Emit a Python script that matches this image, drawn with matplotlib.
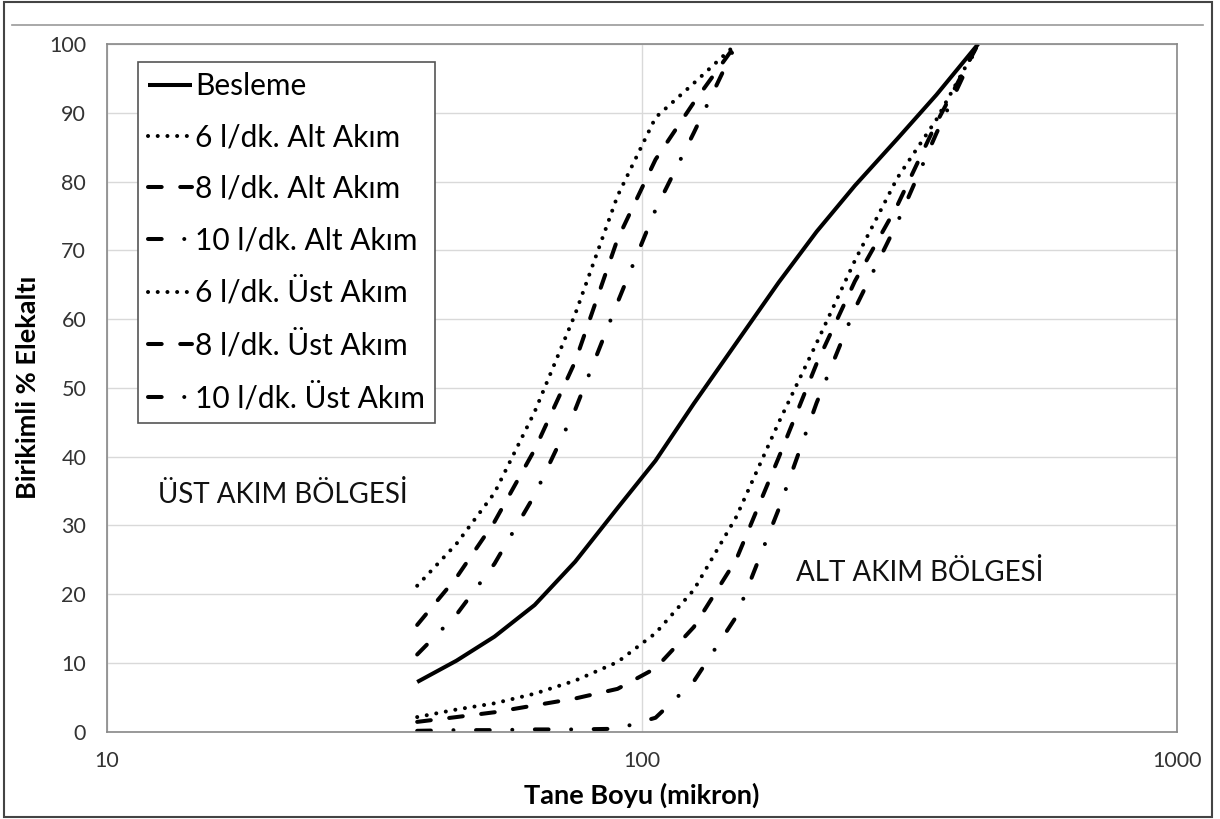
import matplotlib
matplotlib.use('Agg')
import matplotlib.pyplot as plt
from matplotlib.lines import Line2D
from matplotlib.patches import Rectangle
from matplotlib.ticker import FixedLocator, FixedFormatter, NullLocator

plt.rcParams['font.family'] = ['Lato', 'DejaVu Sans']

# sieve sizes (micron)
sizes = [38, 45, 53, 63, 75, 90, 106, 125, 150, 180, 212, 250, 300, 355, 425]

besleme = [7.2, 10.3, 13.8, 18.4, 24.7, 32.5, 39.4, 47.7, 56.5, 65.3, 72.7, 79.4, 86.2, 92.6, 100]

alt6 = [2.1, 3.2, 4.1, 5.5, 7.4, 10.1, 14.3, 20.6, 31.2, 44.9, 56.5, 68.5, 80.5, 89.0, 100]
alt8 = [1.4, 2.1, 2.8, 3.8, 4.8, 6.2, 9.2, 15.2, 25.0, 39.8, 53.5, 65.5, 76.5, 88.5, 100]
alt10 = [0.1, 0.2, 0.2, 0.3, 0.3, 0.4, 2.0, 7.3, 16.7, 32.3, 47.8, 61.5, 74.0, 87.0, 100]

# overflow curves only go up to 150 micron
ust_sizes = sizes[:9]
ust6 = [21.2, 27.3, 34.7, 46.5, 60.7, 77.9, 89.3, 94.3, 100]
ust8 = [15.5, 22.4, 30.5, 41.0, 53.8, 71.6, 83.2, 91.5, 100]
ust10 = [11.2, 17.0, 24.4, 34.4, 46.8, 62.4, 75.9, 87.1, 100]

labels = ['Besleme', '6 l/dk. Alt Akım', '8 l/dk. Alt Akım', '10 l/dk. Alt Akım',
          '6 l/dk. Üst Akım', '8 l/dk. Üst Akım', '10 l/dk. Üst Akım']

x_ticks = [10, 100, 1000]
y_ticks = list(range(0, 101, 10))

dotted = (0, (0.01, 2.4))
dashed = (0, (3.4, 4.6))
dashdot = (0, (3.4, 5.6, 0.01, 5.6))
LW = 2.9

W, H = 1220, 819
fig = plt.figure(figsize=(W / 100, H / 100), dpi=100)
ax = fig.add_axes([107 / W, 1 - 731.5 / H, (1177 - 107) / W, (731.5 - 44) / H])

kw = dict(color='black', lw=LW, dash_capstyle='round', solid_capstyle='butt')
ax.plot(sizes, besleme, ls='-', label=labels[0], **kw)
ax.plot(sizes, alt6, ls=dotted, label=labels[1], **kw)
ax.plot(sizes, alt8, ls=dashed, label=labels[2], **kw)
ax.plot(sizes, alt10, ls=dashdot, label=labels[3], **kw)
ax.plot(ust_sizes, ust6, ls=dotted, label=labels[4], **kw)
ax.plot(ust_sizes, ust8, ls=dashed, label=labels[5], **kw)
ax.plot(ust_sizes, ust10, ls=dashdot, label=labels[6], **kw)

ax.set_xscale('log')
ax.set_xlim(10, 1000)
ax.set_ylim(0, 100)
ax.xaxis.set_major_locator(FixedLocator(x_ticks))
ax.xaxis.set_major_formatter(FixedFormatter([str(t) for t in x_ticks]))
ax.xaxis.set_minor_locator(NullLocator())
ax.set_yticks(y_ticks)

ax.grid(True, which='major', color='#d9d9d9', lw=1)
ax.set_axisbelow(True)
for s in ax.spines.values():
    s.set_color('#888888')
    s.set_linewidth(1.2)
ax.tick_params(axis='both', length=0, labelsize=15.5, labelcolor='#333333')
ax.tick_params(axis='x', pad=14)
ax.tick_params(axis='y', pad=15)

ax.set_xlabel('Tane Boyu (mikron)', fontsize=19.5, fontweight='bold', va='center')
ax.xaxis.set_label_coords(0.5, (731.5 - 795) / 687.5)
ax.set_ylabel('Birikimli % Elekaltı', fontsize=19.5, fontweight='bold', va='center')
ax.yaxis.set_label_coords((28 - 107) / 1070, 0.5)

ax.text(12.46, 34.5, 'ÜST AKIM BÖLGESİ', fontsize=20, va='center', ha='left', color='#111111')
ax.text(194, 23.1, 'ALT AKIM BÖLGESİ', fontsize=20, va='center', ha='left', color='#111111')

leg = ax.legend(loc='upper left', bbox_to_anchor=(0.029, 0.974), borderaxespad=0,
                fontsize=21.5, handlelength=1.45, handletextpad=0.1, labelspacing=0.78,
                fancybox=False, framealpha=1, edgecolor='#555555', borderpad=0.35)
leg.get_frame().set_linewidth(1.2)

# outer chart frame and top rule
fig.patches.append(Rectangle((4 / W, 1 - 817 / H), (1212 - 4) / W, (817 - 2) / H,
                             transform=fig.transFigure, fill=False, ec='#444444', lw=1.5))
fig.lines.append(Line2D([12 / W, 1203 / W], [1 - 25 / H, 1 - 25 / H],
                        transform=fig.transFigure, color='#999999', lw=1.2))

fig.savefig('out.png', dpi=100)
